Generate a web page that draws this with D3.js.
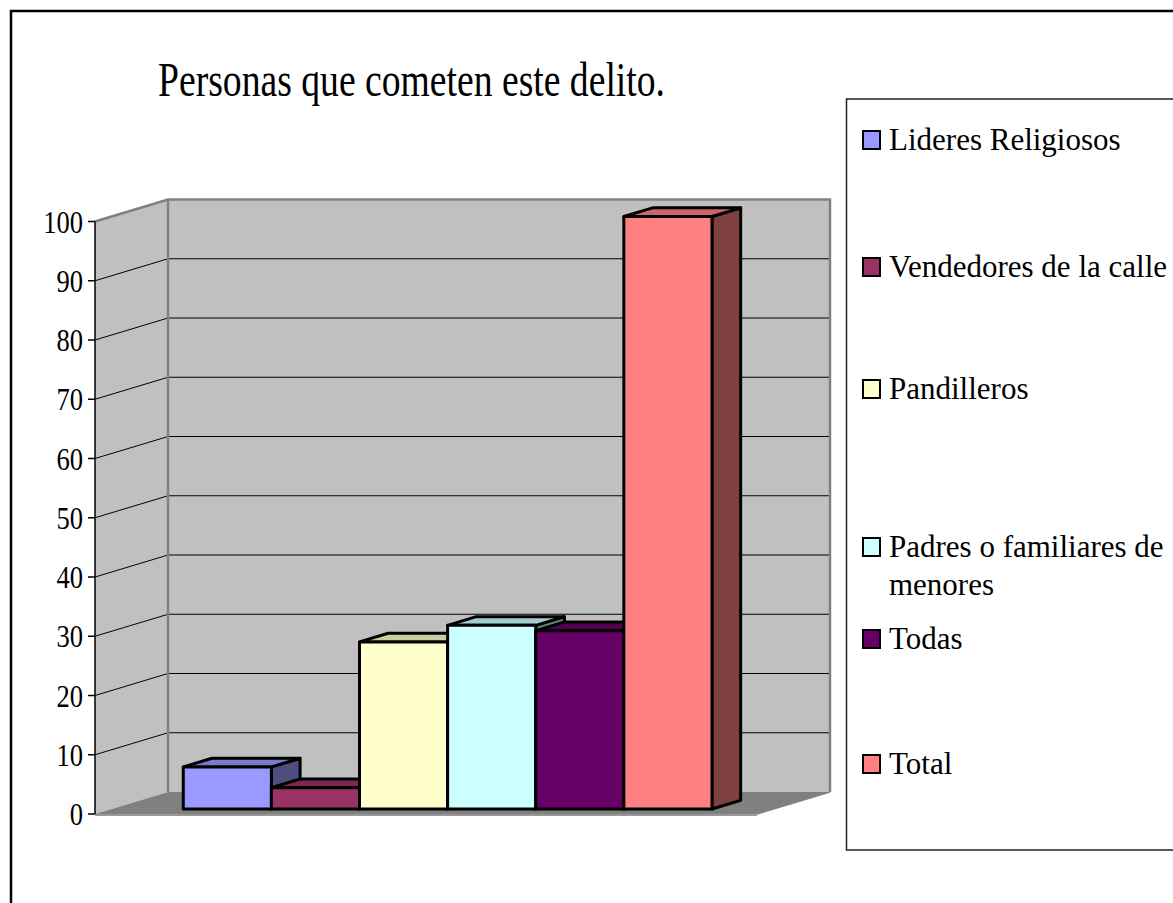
<!DOCTYPE html>
<html>
<head>
<meta charset="utf-8">
<script src="https://cdn.jsdelivr.net/npm/d3@7"></script>
<style>
  body { margin: 0; background: #fff; }
  text { font-family: "Liberation Serif", "Times New Roman", serif; fill: #000; }
</style>
</head>
<body>
<div id="chart"></div>
<script>
var title = "Personas que cometen este delito.";
var series = ["Lideres Religiosos", "Vendedores de la calle", "Pandilleros",
              "Padres o familiares de menores", "Todas", "Total"];
var values = [7.1, 3.6, 28.2, 31, 30.1, 100];
var colors = ["#9999ff", "#993366", "#ffffcc", "#ccffff", "#660066", "#ff8080"];
var ticks = [0, 10, 20, 30, 40, 50, 60, 70, 80, 90, 100];

var W = 1173, H = 903;

var svg = d3.select("#chart").append("svg")
    .attr("width", W)
    .attr("height", H);

// outer chart frame (runs off the page on the right and bottom)
svg.append("rect")
    .attr("x", 11).attr("y", 11)
    .attr("width", 1300).attr("height", 1000)
    .attr("fill", "#fff")
    .attr("stroke", "#000")
    .attr("stroke-width", 2.5);

// front plane of the 3d box
var left = 95, right = 757;
var y = d3.scaleLinear().domain([0, 100]).range([814, 221.5]);
// full depth offset of the box
var DX = 73, DY = 22;

function pt(px, v, d) {
  return [px + d * DX, y(v) - d * DY];
}
function poly(pts) {
  return pts.map(function(p) { return p.join(","); }).join(" ");
}

var g = svg.append("g");

// side wall
g.append("polygon")
    .attr("points", poly([pt(left, 0, 0), pt(left, 100, 0), pt(left, 100, 1), pt(left, 0, 1)]))
    .attr("fill", "#c0c0c0");

// back wall
g.append("polygon")
    .attr("points", poly([pt(left, 0, 1), pt(left, 100, 1), pt(right, 100, 1), pt(right, 0, 1)]))
    .attr("fill", "#c0c0c0");

// floor
g.append("polygon")
    .attr("points", poly([pt(left, 0, 0), pt(right, 0, 0), pt(right, 0, 1), pt(left, 0, 1)]))
    .attr("fill", "#808080");
g.append("line")
    .attr("x1", left).attr("x2", right)
    .attr("y1", y(0) + 1).attr("y2", y(0) + 1)
    .attr("stroke", "#999").attr("stroke-width", 2);

// gridlines on side and back wall
var grid = ticks.filter(function(t) { return t > 0 && t < 100; });
g.selectAll(".gside").data(grid).enter().append("polyline")
    .attr("class", "gside")
    .attr("points", function(t) { return poly([pt(left, t, 0), pt(left, t, 1), pt(right, t, 1)]); })
    .attr("fill", "none")
    .attr("stroke", "#000")
    .attr("stroke-width", 1);

// wall edges
g.append("polyline")
    .attr("points", poly([pt(left, 100, 0), pt(left, 100, 1), pt(right, 100, 1), pt(right, 0, 1)]))
    .attr("fill", "none").attr("stroke", "#808080").attr("stroke-width", 2.5);
g.append("line")
    .attr("x1", pt(left, 0, 1)[0]).attr("y1", pt(left, 0, 1)[1])
    .attr("x2", pt(left, 100, 1)[0]).attr("y2", pt(left, 100, 1)[1])
    .attr("stroke", "#808080").attr("stroke-width", 2.5);
g.append("line")
    .attr("x1", pt(right, 0, 0)[0]).attr("y1", pt(right, 0, 0)[1])
    .attr("x2", pt(right, 0, 1)[0]).attr("y2", pt(right, 0, 1)[1])
    .attr("stroke", "#808080").attr("stroke-width", 1.5);

// value axis
var axis = svg.append("g");
axis.append("line")
    .attr("x1", left).attr("x2", left)
    .attr("y1", y(100)).attr("y2", y(0))
    .attr("stroke", "#000").attr("stroke-width", 1.5);
axis.selectAll(".tick").data(ticks).enter().append("line")
    .attr("x1", left - 7).attr("x2", left)
    .attr("y1", function(t) { return y(t); })
    .attr("y2", function(t) { return y(t); })
    .attr("stroke", "#000").attr("stroke-width", 1.5);
axis.selectAll(".lbl").data(ticks).enter().append("text")
    .attr("x", 83)
    .attr("y", function(t) { return y(t) + 11; })
    .attr("text-anchor", "end")
    .attr("font-size", 32)
    .text(function(t) { return t; })
    .each(function() {
      this.setAttribute("textLength", this.getComputedTextLength() * 0.83);
      this.setAttribute("lengthAdjust", "spacingAndGlyphs");
    });

// bars, drawn left to right so the next bar hides the previous side face
var d0 = 0.227, d1 = 0.62;
var x = d3.scaleBand().domain(series).range([166.7, 695.4]).paddingInner(0);

function shade(c, k) {
  var r = d3.rgb(c);
  return d3.rgb(r.r * k, r.g * k, r.b * k).toString();
}

series.forEach(function(s, i) {
  var x0 = x(s), x1 = x(s) + x.bandwidth(), v = values[i];
  var bar = g.append("g")
      .attr("stroke", "#000")
      .attr("stroke-width", 3)
      .attr("stroke-linejoin", "round");
  bar.append("polygon")
      .attr("points", poly([pt(x1, 0, d0), pt(x1, v, d0), pt(x1, v, d1), pt(x1, 0, d1)]))
      .attr("fill", shade(colors[i], 0.5));
  bar.append("polygon")
      .attr("points", poly([pt(x0, v, d0), pt(x1, v, d0), pt(x1, v, d1), pt(x0, v, d1)]))
      .attr("fill", shade(colors[i], 0.8));
  bar.append("polygon")
      .attr("points", poly([pt(x0, 0, d0), pt(x1, 0, d0), pt(x1, v, d0), pt(x0, v, d0)]))
      .attr("fill", colors[i]);
});

// title
svg.append("text")
    .attr("x", 158)
    .attr("y", 96)
    .attr("font-size", 48)
    .attr("textLength", 507)
    .attr("lengthAdjust", "spacingAndGlyphs")
    .text(title);

// legend
var legend = svg.append("g");
legend.append("rect")
    .attr("x", 846.5).attr("y", 99)
    .attr("width", 400).attr("height", 751)
    .attr("fill", "#fff")
    .attr("stroke", "#222")
    .attr("stroke-width", 1.5);

var rowBase = [150, 277, 399, 557, 649, 774];
var maxW = 285, lineH = 38;

series.forEach(function(s, i) {
  var item = legend.append("g");
  item.append("rect")
      .attr("x", 863).attr("y", rowBase[i] - 19)
      .attr("width", 17).attr("height", 18)
      .attr("fill", colors[i])
      .attr("stroke", "#000")
      .attr("stroke-width", 2);
  // simple word wrap
  var words = s.split(" "), line = [];
  var t = item.append("text")
      .attr("x", 889).attr("y", rowBase[i])
      .attr("font-size", 31);
  var ts = t.append("tspan").attr("x", 889).attr("dy", 0);
  words.forEach(function(w) {
    line.push(w);
    ts.text(line.join(" "));
    if (ts.node().getComputedTextLength() > maxW && line.length > 1) {
      line.pop();
      ts.text(line.join(" "));
      line = [w];
      ts = t.append("tspan").attr("x", 889).attr("dy", lineH).text(w);
    }
  });
});
</script>
</body>
</html>
